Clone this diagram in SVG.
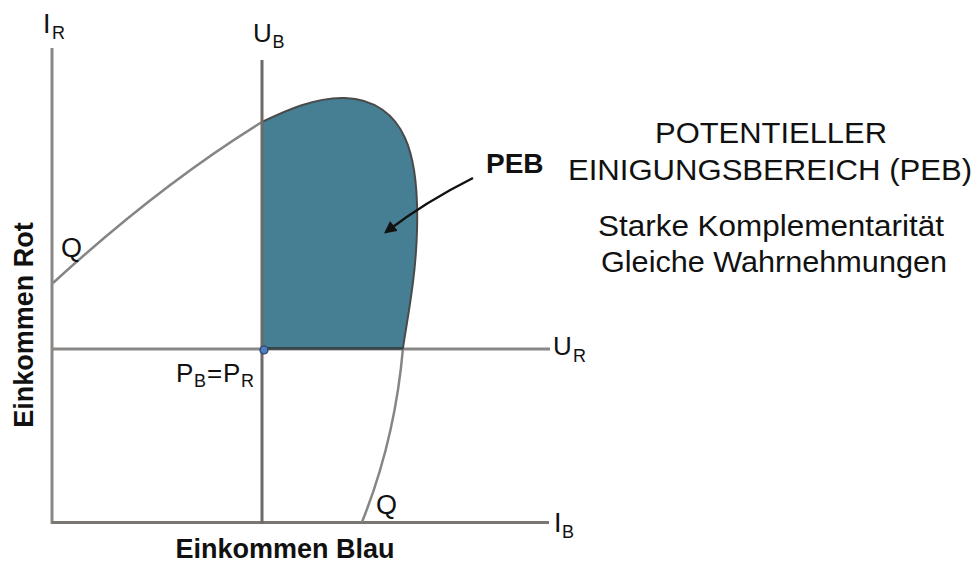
<svg xmlns="http://www.w3.org/2000/svg" width="976" height="564" viewBox="0 0 976 564">
<style>
.t{font-family:"Liberation Sans",Arial,sans-serif;fill:#111}
.b{font-weight:bold}
.ax{stroke:#8a8886;stroke-width:3;fill:none}
.cv{stroke:#858585;stroke-width:2.5;fill:none}
</style>
<defs>
<marker id="ah" viewBox="0 0 10 10" refX="8" refY="5" markerWidth="5" markerHeight="5" orient="auto" markerUnits="strokeWidth">
<path d="M0,0 L10,5 L0,10 Z" fill="#111"/>
</marker>
</defs>
<rect width="976" height="564" fill="#fff"/>
<g id="connectors">
<line class="ax" x1="52" y1="48" x2="52" y2="524"/>
<line class="ax" x1="52" y1="522.5" x2="549" y2="522.5" style="stroke:#7a7672"/>
<line class="ax" x1="52" y1="349" x2="550" y2="349"/>
<path class="cv" d="M53,283 Q160,185 262,122"/>
<path class="cv" d="M403,348 Q395,440 362,522"/>
</g>
<g id="peb-region">
<path d="M262,122 C285,111 315,97 345,98 C375,99 395,115 405,138 C415,160 418,195 417,230 C416,275 408,315 403,348 L262,348 Z" fill="#467f93" stroke="#4a4a4a" stroke-width="2"/>
<line x1="262" y1="348.5" x2="403" y2="348.5" stroke="#34444a" stroke-width="2.5"/>
</g>
<g id="ub-axis">
<line class="ax" x1="262" y1="60" x2="262" y2="524" style="stroke:#6e6a68"/>
</g>
<g id="point-p">
<circle cx="264" cy="350" r="4" fill="#4a7fc4" stroke="#2c3e55" stroke-width="1.2"/>
</g>
<g id="arrow">
<path d="M473,178 Q425,202 386,232" fill="none" stroke="#111" stroke-width="2.5" marker-end="url(#ah)"/>
</g>
<g id="labels">
<text class="t" x="43" y="33" font-size="27">I<tspan font-size="18" x="52" y="39">R</tspan></text>
<text class="t" x="253" y="42" font-size="26">U<tspan font-size="18" x="272.5" y="48">B</tspan></text>
<text class="t" x="553" y="355" font-size="26">U<tspan font-size="18" x="573" y="362">R</tspan></text>
<text class="t" x="554" y="532" font-size="27">I<tspan font-size="18" x="562" y="538">B</tspan></text>
<text class="t" x="176" y="382" font-size="26">P<tspan font-size="18" x="194" y="387">B</tspan><tspan x="207" y="382">=</tspan><tspan x="223" y="382">P</tspan><tspan font-size="18" x="241" y="387">R</tspan></text>
<text class="t" x="61" y="257" font-size="27">Q</text>
<text class="t" x="376" y="514" font-size="27">Q</text>
<text class="t b" x="486" y="173" font-size="28">PEB</text>
<text class="t b" x="285" y="558" font-size="27" text-anchor="middle">Einkommen Blau</text>
<text class="t b" transform="translate(33,325) rotate(-90)" font-size="27" text-anchor="middle">Einkommen Rot</text>
</g>
<g id="legend">
<text class="t" x="771" y="143" font-size="30" text-anchor="middle" textLength="232" lengthAdjust="spacingAndGlyphs">POTENTIELLER</text>
<text class="t" x="770" y="180" font-size="30" text-anchor="middle" textLength="404" lengthAdjust="spacingAndGlyphs">EINIGUNGSBEREICH (PEB)</text>
<text class="t" x="771" y="236" font-size="29" text-anchor="middle" textLength="346" lengthAdjust="spacingAndGlyphs">Starke Komplementarität</text>
<text class="t" x="774" y="272" font-size="29" text-anchor="middle" textLength="346" lengthAdjust="spacingAndGlyphs">Gleiche Wahrnehmungen</text>
</g>
</svg>
